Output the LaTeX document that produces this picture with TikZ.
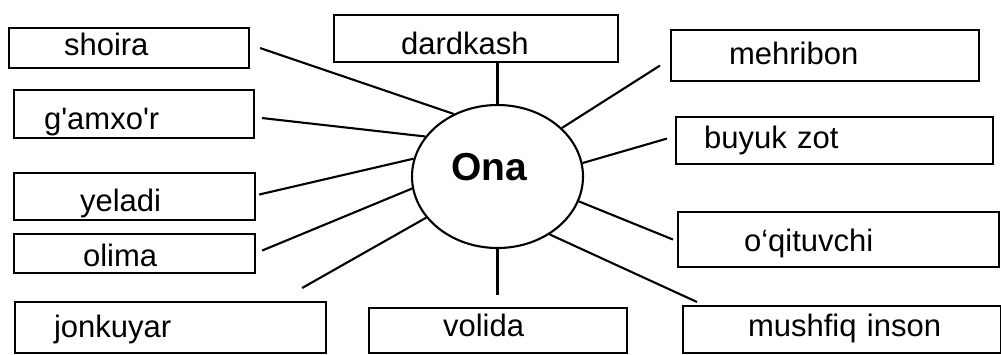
\documentclass[tikz,border=0pt]{standalone}
\usepackage{fontspec}
\setmainfont{Liberation Sans}
\usepackage{tikz}
\usetikzlibrary{shapes.geometric,positioning,calc}

\newcommand{\wordfont}{\fontsize{31}{36}\selectfont}

\begin{document}
\begin{tikzpicture}[x=1pt, y=-1pt, line width=2.1pt,
    wordbox/.style={draw, anchor=north west, inner xsep=0pt, inner ysep=0pt,
        align=left, font=\wordfont, text depth=0pt},
    centre/.style={draw, ellipse, inner sep=0pt}]
    \useasboundingbox (0,0) rectangle (1001,354);

    % Centre
    \node[centre, minimum width=171pt, minimum height=143pt,
        label={[font=\fontsize{39}{44}\selectfont\bfseries, xshift=-8pt, yshift=9pt]center:Ona}]
        (ona) at (497.5,176.5) {};

    % Left column
    \node[wordbox, text width=240pt, minimum height=40pt, text height=14pt] (shoira) at (8,27) {\hspace*{55pt}shoira};
    \node[wordbox, text width=240pt, minimum height=48pt, text height=30pt] (gamxor) at (13,89) {\hspace*{30pt}g\textquotesingle amxo\textquotesingle r};
    \node[wordbox, text width=241pt, minimum height=47pt, text height=29pt] (yeladi) at (13,172) {\hspace*{66pt}yeladi};
    \node[wordbox, text width=241pt, minimum height=39pt, text height=25pt] (olima) at (13,233) {\hspace*{69pt}olima};
    \node[wordbox, text width=311pt, minimum height=51pt, text height=19pt] (jonkuyar) at (14,301) {\hspace*{39pt}jonkuyar};

    % Middle
    \node[wordbox, text width=284pt, minimum height=47pt, text height=31pt] (dardkash) at (333,14) {\hspace*{67pt}dardkash};
    \node[wordbox, text width=258pt, minimum height=45pt, text height=12pt] (volida) at (368,307) {\hspace*{74pt}volida};

    % Right column
    \node[wordbox, text width=308pt, minimum height=51pt, text height=17pt] (mehribon) at (670,29) {\hspace*{58pt}mehribon};
    \node[wordbox, text width=317pt, minimum height=47pt, text height=15pt] (buyuk) at (675,116) {\hspace*{28pt}buyuk zot};
    \node[wordbox, text width=321pt, minimum height=55pt, text height=23pt] (oqituvchi) at (677,211) {\hspace*{66pt}o‘qituvchi};
    \node[wordbox, text width=318pt, minimum height=47pt, text height=13pt] (mushfiq) at (682,305) {\hspace*{65pt}mushfiq inson};

    % Connectors
    \draw (ona.125) -- ([xshift=10pt]shoira.east);
    \draw (ona.151) -- ([xshift=7pt,yshift=-4pt]gamxor.east);
    \draw (ona.168) -- ([xshift=3pt,yshift=2pt]yeladi.east);
    \draw (ona.188) -- ([xshift=6pt,yshift=3pt]olima.east);
    \draw (ona.210) -- ([xshift=-25pt,yshift=13pt]jonkuyar.north east);
    \draw (ona.north) -- (ona.north |- dardkash.south);
    \draw (ona.south) -- ($(ona.south |- volida.north)+(0,-12)$);
    \draw (ona.37) -- ([xshift=-10pt,yshift=-10pt]mehribon.west);
    \draw (ona.9) -- ([xshift=-8pt,yshift=2pt]buyuk.west);
    \draw (ona.343) -- ([xshift=-4pt]oqituvchi.west);
    \draw (ona.312) -- ([xshift=15pt,yshift=3pt]mushfiq.north west);
\end{tikzpicture}
\end{document}
